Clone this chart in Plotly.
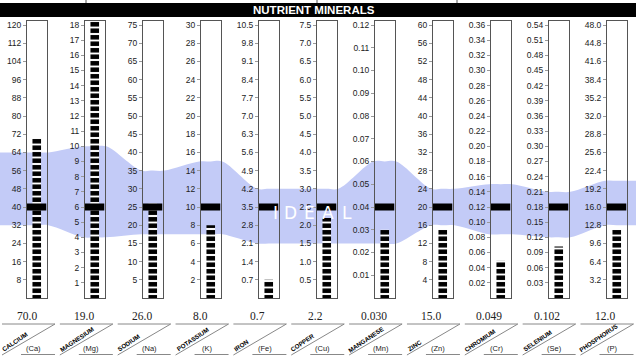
import math
import plotly.graph_objects as go

W, H = 636, 358

# ---------------- data ----------------
names = ["CALCIUM", "MAGNESIUM", "SODIUM", "POTASSIUM", "IRON", "COPPER",
         "MANGANESE", "ZINC", "CHROMIUM", "SELENIUM", "PHOSPHORUS"]
symbols = ["(Ca)", "(Mg)", "(Na)", "(K)", "(Fe)", "(Cu)", "(Mn)", "(Zn)", "(Cr)", "(Se)", "(P)"]
values = [70.0, 19.0, 26.0, 8.0, 0.7, 2.2, 0.030, 15.0, 0.049, 0.102, 12.0]
value_labels = ["70.0", "19.0", "26.0", "8.0", "0.7", "2.2", "0.030", "15.0", "0.049", "0.102", "12.0"]
ideal = [40, 6, 25, 10, 3.5, 2.5, 0.04, 20, 0.12, 0.18, 16.0]
ideal_low = [32, 4, 17.5, 7, 2.1, 1.5, 0.024, 16, 0.084, 0.12, 12.8]
ideal_high = [64, 10, 35, 15, 4.2, 3.0, 0.06, 24, 0.15, 0.21, 20.6]
scale_max = [120, 18, 75, 30, 10.5, 7.5, 0.12, 60, 0.36, 0.54, 48.0]

ticks_ca = ["8", "16", "24", "32", "40", "48", "56", "64", "72", "80", "88", "96", "104", "112", "120"]
ticks_mg = ["1", "2", "3", "4", "5", "6", "7", "8", "9", "10", "11", "12", "13", "14", "15", "16", "17", "18"]
ticks_na = ["5", "10", "15", "20", "25", "30", "35", "40", "45", "50", "55", "60", "65", "70", "75"]
ticks_k = ["2", "4", "6", "8", "10", "12", "14", "16", "18", "20", "22", "24", "26", "28", "30"]
ticks_fe = ["0.7", "1.4", "2.1", "2.8", "3.5", "4.2", "4.9", "5.6", "6.3", "7.0", "7.7", "8.4", "9.1", "9.8", "10.5"]
ticks_cu = ["0.5", "1.0", "1.5", "2.0", "2.5", "3.0", "3.5", "4.0", "4.5", "5.0", "5.5", "6.0", "6.5", "7.0", "7.5"]
ticks_mn = ["0.01", "0.02", "0.03", "0.04", "0.05", "0.06", "0.07", "0.08", "0.09", "0.10", "0.11", "0.12"]
ticks_zn = ["4", "8", "12", "16", "20", "24", "28", "32", "36", "40", "44", "48", "52", "56", "60"]
ticks_cr = ["0.02", "0.04", "0.06", "0.08", "0.10", "0.12", "0.14", "0.16", "0.18", "0.20", "0.22",
            "0.24", "0.26", "0.28", "0.30", "0.32", "0.34", "0.36"]
ticks_se = ["0.03", "0.06", "0.09", "0.12", "0.15", "0.18", "0.21", "0.24", "0.27", "0.30", "0.33",
            "0.36", "0.39", "0.42", "0.45", "0.48", "0.51", "0.54"]
ticks_p = ["3.2", "6.4", "9.6", "12.8", "16.0", "19.2", "22.4", "25.6", "28.8", "32.0", "35.2",
           "38.4", "41.6", "44.8", "48.0"]
tick_labels = [ticks_ca, ticks_mg, ticks_na, ticks_k, ticks_fe, ticks_cu, ticks_mn,
               ticks_zn, ticks_cr, ticks_se, ticks_p]

title = "NUTRIENT MINERALS"
ideal_word = ["I", "D", "E", "A", "L"]

# ---------------- styling / geometry ----------------
BAND = "#c3cbf7"
LINE = "#555555"
TICKC = "#999999"
TXT = "#222222"
TOP_PX, BOT_PX = 21, 298
HEADROOM = (BOT_PX - TOP_PX) / 273.0
COL0, STEP, TUBE_W = 27.0, 58.0, 19.5


def px(x):
    return x / W


def py(y):
    return 1 - y / H


ydom = [py(BOT_PX), py(TOP_PX)]
n = len(names)

fig = go.Figure()

# ---- ideal band, on an overlay axis (index units, normalised heights) ----
centre0 = COL0 + TUBE_W / 2
bx, bhi, blo = [], [], []
bx += [-2.0, -1.0]
bhi += [ideal_high[0] / scale_max[0]] * 2
blo += [ideal_low[0] / scale_max[0]] * 2
for i in range(n):
    for dx in (-0.2, 0.0, 0.2):
        bx.append(i + dx)
        bhi.append(ideal_high[i] / scale_max[i])
        blo.append(ideal_low[i] / scale_max[i])
bx += [n, n + 1]
bhi += [ideal_high[-1] / scale_max[-1]] * 2
blo += [ideal_low[-1] / scale_max[-1]] * 2

fig.add_trace(go.Scatter(x=bx, y=blo, mode="lines",
                         line=dict(width=0, shape="spline", smoothing=1, color=BAND),
                         hoverinfo="skip", showlegend=False, xaxis="x", yaxis="y"))
fig.add_trace(go.Scatter(x=bx, y=bhi, mode="lines", fill="tonexty", fillcolor=BAND,
                         line=dict(width=0, shape="spline", smoothing=1, color=BAND),
                         hoverinfo="skip", showlegend=False, xaxis="x", yaxis="y"))

layout_axes = {}
layout_axes["xaxis"] = dict(domain=[0, 1], range=[(0 - centre0) / STEP, (W - centre0) / STEP],
                            visible=False, fixedrange=True)
layout_axes["yaxis"] = dict(domain=ydom, range=[0, HEADROOM], visible=False, fixedrange=True)

# ---- tubes ----
for i in range(n):
    k = i + 2
    left = COL0 + STEP * i
    fig.add_trace(go.Bar(
        x=[0], y=[values[i]], width=0.44,
        marker=dict(color="white", line=dict(width=0),
                    pattern=dict(shape="-", fgcolor="black", bgcolor="white",
                                 size=6.5, solidity=0.7, fillmode="replace")),
        hoverinfo="skip", showlegend=False, xaxis=f"x{k}", yaxis=f"y{k}"))
    fig.add_trace(go.Scatter(
        x=[-0.5, 0.5], y=[ideal[i], ideal[i]], mode="lines",
        line=dict(color="black", width=7), hoverinfo="skip", showlegend=False,
        xaxis=f"x{k}", yaxis=f"y{k}"))
    layout_axes[f"xaxis{k}"] = dict(
        domain=[px(left), px(left + TUBE_W)], range=[-0.5, 0.5], anchor=f"y{k}",
        showline=True, mirror=True, linecolor=LINE, linewidth=1,
        showticklabels=False, ticks="", showgrid=False, zeroline=False, fixedrange=True)
    layout_axes[f"yaxis{k}"] = dict(
        domain=ydom, range=[0, scale_max[i] * HEADROOM], anchor=f"x{k}",
        showline=True, mirror=True, linecolor=LINE, linewidth=1,
        ticks="outside", ticklen=3, tickcolor=TICKC, tickwidth=1,
        tickmode="array", tickvals=[float(t) for t in tick_labels[i]],
        ticktext=tick_labels[i], tickfont=dict(family="Arial", size=8.5, color=TXT),
        showgrid=False, zeroline=False, automargin=False, fixedrange=True)

shapes = []
annotations = []

# title bar
shapes.append(dict(type="rect", xref="paper", yref="paper", x0=0, x1=1,
                   y0=py(17), y1=py(3), fillcolor="black", line=dict(width=0), layer="above"))
for xx in (86, 317, 457):
    shapes.append(dict(type="line", xref="paper", yref="paper", x0=px(xx), x1=px(xx),
                       y0=py(3), y1=1, line=dict(color=LINE, width=1)))
annotations.append(dict(text=title, x=px(314), y=py(10), xref="paper", yref="paper",
                        showarrow=False, xanchor="center", yanchor="middle",
                        font=dict(family="Arial", size=11.5, color="white", weight="bold")))

# IDEAL word
for ch, xx in zip(ideal_word, [275.5, 290, 309.5, 328, 347]):
    annotations.append(dict(text=ch, x=px(xx), y=py(213), xref="paper", yref="paper",
                            showarrow=False, xanchor="center", yanchor="middle",
                            font=dict(family="DejaVu Sans", size=17, color="white")))

# bottom label boxes
ang = 34
ca, sa = math.cos(math.radians(ang)), math.sin(math.radians(ang))
for i in range(n):
    bc = 28.5 + 57.85 * i
    left, right = bc - 26.5, bc + 26.5
    shapes.append(dict(type="line", xref="paper", yref="paper", x0=px(left), x1=px(right),
                       y0=py(324), y1=py(324), line=dict(color="#888888", width=1)))
    shapes.append(dict(type="line", xref="paper", yref="paper", x0=px(left), x1=px(right),
                       y0=py(355), y1=py(324), line=dict(color="#888888", width=1)))
    shapes.append(dict(type="line", xref="paper", yref="paper", x0=px(left + 19), x1=px(right),
                       y0=py(354.5), y1=py(354.5), line=dict(color="#888888", width=1)))
    annotations.append(dict(text=value_labels[i], x=px(bc - 2), y=py(316), xref="paper", yref="paper",
                            showarrow=False, xanchor="center", yanchor="middle",
                            font=dict(family="Liberation Serif", size=11.5, color=TXT)))
    annotations.append(dict(text=symbols[i], x=px(bc + 5), y=py(348.5), xref="paper", yref="paper",
                            showarrow=False, xanchor="center", yanchor="middle",
                            font=dict(family="Arial", size=7.5, color=TXT)))
    fs = 6.3
    w = 0.7 * fs * len(names[i])
    sx, sy = left + 2, 353
    cx = sx + ca * w / 2 - sa * 3.5
    cy = sy - sa * w / 2 - ca * 3.5
    annotations.append(dict(text=names[i], x=px(cx), y=py(cy), xref="paper", yref="paper",
                            showarrow=False, xanchor="center", yanchor="middle", textangle=-ang,
                            font=dict(family="Arial", size=fs, color="black", weight="bold")))

fig.update_layout(
    width=W, height=H, margin=dict(l=0, r=0, t=0, b=0),
    paper_bgcolor="white", plot_bgcolor="rgba(0,0,0,0)",
    showlegend=False, shapes=shapes, annotations=annotations,
    barmode="overlay", **layout_axes)

fig.write_html("out.html", config={"displayModeBar": False},
               post_script="document.body.style.margin='0';document.body.style.padding='0';")
